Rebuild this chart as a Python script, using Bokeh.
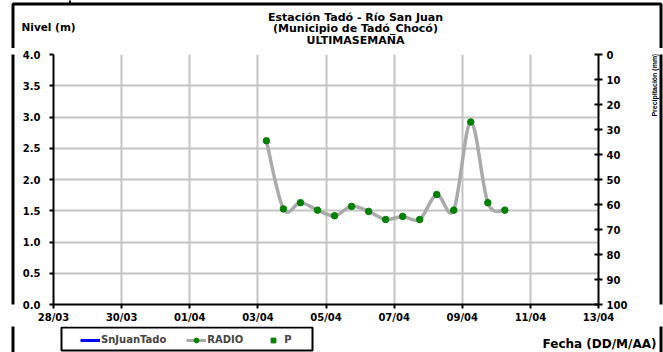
import numpy as np
import pandas as pd
from bokeh.plotting import figure
from bokeh.layouts import column, row
from bokeh.core.properties import value
from bokeh.models import (Range1d, LinearAxis, FixedTicker, DatetimeTickFormatter,
                          PrintfTickFormatter, Label, Legend, LegendItem, BoxAnnotation,
                          ColumnDataSource)
from bokeh.embed import file_html
from bokeh.resources import INLINE

# ---------------- data ----------------
times = ["2023-04-03 06:00", "2023-04-03 18:00", "2023-04-04 06:00", "2023-04-04 18:00",
         "2023-04-05 06:00", "2023-04-05 18:00", "2023-04-06 06:00", "2023-04-06 18:00",
         "2023-04-07 06:00", "2023-04-07 18:00", "2023-04-08 06:00", "2023-04-08 18:00",
         "2023-04-09 06:00", "2023-04-09 18:00", "2023-04-10 06:00"]
nivel = [2.62, 1.53, 1.63, 1.51, 1.42, 1.57, 1.49, 1.36, 1.41, 1.36, 1.76, 1.51, 2.92, 1.63, 1.51]

# series without values in this week (shown in the legend only)
snjuantado_nivel = [float("nan")]
p_precip = [float("nan")]

x_tick_dates = ["2023-03-28", "2023-03-30", "2023-04-01", "2023-04-03", "2023-04-05",
                "2023-04-07", "2023-04-09", "2023-04-11", "2023-04-13"]
nivel_ticks = [0.0, 0.5, 1.0, 1.5, 2.0, 2.5, 3.0, 3.5, 4.0]
precip_ticks = [0, 10, 20, 30, 40, 50, 60, 70, 80, 90, 100]

title_lines = ["Estación Tadó - Río San Juan", "(Municipio de Tadó_Chocó)", "ULTIMASEMANA"]
y_title = "Nivel (m)"
y2_title = "Precipitación (mm)"
x_title = "Fecha (DD/M/AA)"
series_names = ["SnJuanTado", "RADIO", "P"]

# ---------------- styling ----------------
FONT = "DejaVu Sans"
GRID = "#c4c4c4"
LINE_GRAY = "#aaaaaa"
GREEN = "#008000"

def ms(s):
    return pd.Timestamp(s).value / 1e6

xs = np.array([ms(t) for t in times])
ys = np.array(nivel, dtype=float)
xtick_ms = [ms(d) for d in x_tick_dates]

# smooth curve (Catmull-Rom as cubic Bezier segments) through the data points
xp = np.concatenate([[xs[0]], xs, [xs[-1]]])
yp = np.concatenate([[ys[0]], ys, [ys[-1]]])
n = len(xs)
bez = ColumnDataSource(dict(
    x0=xs[:-1], y0=ys[:-1], x1=xs[1:], y1=ys[1:],
    cx0=xs[:-1] + (xp[2:n + 1] - xp[0:n - 1]) / 6.0,
    cy0=ys[:-1] + (yp[2:n + 1] - yp[0:n - 1]) / 6.0,
    cx1=xs[1:] - (xp[3:n + 2] - xp[1:n]) / 6.0,
    cy1=ys[1:] - (yp[3:n + 2] - yp[1:n]) / 6.0,
))

# ---------------- layout sizes ----------------
W, H = 663, 352
TOP_H, MID_H, BOT_H = 48, 278, 26
LEFT_W, MAIN_W, RIGHT_W = 16, 624, 23


def strip(w, h):
    f = figure(width=w, height=h, output_backend="svg", toolbar_location=None,
               x_axis_type=None, y_axis_type=None, min_border=0,
               x_range=Range1d(0, w), y_range=Range1d(0, h))
    f.outline_line_color = None
    f.background_fill_color = "white"
    f.border_fill_color = "white"
    return f


def sbox(l, r, t, b, lw=3, fill=False):
    return BoxAnnotation(left=l, right=r, top=t, bottom=b,
                         left_units="screen", right_units="screen",
                         top_units="screen", bottom_units="screen",
                         fill_color="black", fill_alpha=1 if fill else 0,
                         line_color=None if fill else "black", line_alpha=1, line_width=lw)


def slabel(x, y, text, size, align="center"):
    return Label(x=x, y=y, x_units="screen", y_units="screen", text=text,
                 text_align=align, text_baseline="middle", text_font=FONT,
                 text_font_style="bold", text_font_size=size, text_color="black")


# ---------------- top strip: titles ----------------
top = strip(W, TOP_H)
top.add_layout(sbox(12.5, 660.5, TOP_H - 3.5, -100))
top.add_layout(sbox(68.5, 70.5, TOP_H + 2, TOP_H - 3.5, fill=True))
for i, t in enumerate(title_lines):
    top.add_layout(slabel(355, TOP_H - (16.5 + 11.7 * i), t, "11px"))
top.add_layout(slabel(21, TOP_H - 26.5, y_title, "10.5px", align="left"))

# ---------------- main chart ----------------
p = figure(width=MAIN_W, height=MID_H, output_backend="svg", toolbar_location=None,
           x_axis_type="datetime",
           x_range=Range1d(xtick_ms[0], xtick_ms[-1]), y_range=Range1d(0, 4),
           min_border_left=37, min_border_right=42, min_border_top=6, min_border_bottom=22)
p.outline_line_color = None
p.background_fill_color = "white"
p.border_fill_color = "white"
p.extra_y_ranges = {"p": Range1d(start=100, end=0)}

p.xgrid.ticker = FixedTicker(ticks=xtick_ms)
p.ygrid.ticker = FixedTicker(ticks=nivel_ticks)
p.grid.grid_line_color = GRID
p.grid.grid_line_width = 2


def style_axis(ax):
    ax.axis_line_color = "black"
    ax.axis_line_width = 2
    ax.major_tick_line_color = "black"
    ax.major_tick_line_width = 2
    ax.minor_tick_line_color = None
    ax.major_label_text_font = FONT
    ax.major_label_text_font_style = "bold"
    ax.major_label_text_font_size = "10px"
    ax.major_label_text_color = "black"


xa = p.xaxis[0]
xa.ticker = FixedTicker(ticks=xtick_ms)
xa.formatter = DatetimeTickFormatter(days="%d/%m", months="%d/%m", years="%d/%m",
                                     hours="%d/%m", minutes="%d/%m")
style_axis(xa)
xa.major_tick_out = 4
xa.major_tick_in = 0
xa.major_label_standoff = 3

ya = p.yaxis[0]
ya.ticker = FixedTicker(ticks=nivel_ticks)
ya.formatter = PrintfTickFormatter(format="%.1f")
style_axis(ya)
ya.major_tick_out = 4
ya.major_tick_in = 0
ya.major_label_standoff = 9

ya2 = LinearAxis(y_range_name="p", ticker=FixedTicker(ticks=precip_ticks))
style_axis(ya2)
ya2.major_tick_out = 4
ya2.major_tick_in = 4
ya2.major_label_standoff = 4
p.add_layout(ya2, "right")

p.bezier(x0="x0", y0="y0", x1="x1", y1="y1", cx0="cx0", cy0="cy0", cx1="cx1", cy1="cy1",
         source=bez, line_color=LINE_GRAY, line_width=3.5)
p.scatter(x=xs, y=ys, marker="circle", size=6.5, fill_color=GREEN, line_color=GREEN)

# ---------------- side strips ----------------
left = strip(LEFT_W, MID_H)
left.add_layout(sbox(12.5, 200, MID_H + 100, -100))

right = strip(RIGHT_W, MID_H)
right.add_layout(sbox(-200, 20.5, MID_H + 100, -100))
right.text(x=[13.5], y=[MID_H - 34], text=[y2_title], angle=np.pi / 2,
           text_align="center", text_baseline="middle", text_font=value("Liberation Sans"),
           text_font_style="bold", text_font_size="7px", text_color="black")

# ---------------- bottom strip: legend + x title ----------------
bot = strip(W, BOT_H)
bot.add_layout(sbox(12.5, 660.5, BOT_H + 100, -100))
bot.add_layout(sbox(61, 312, BOT_H - 1, BOT_H - 24, lw=2))

r_sj = bot.line(x=snjuantado_nivel, y=snjuantado_nivel, line_color="#0000ff", line_width=3)
r_radio_l = bot.line(x=snjuantado_nivel, y=snjuantado_nivel, line_color=LINE_GRAY, line_width=3)
r_radio_m = bot.scatter(x=snjuantado_nivel, y=snjuantado_nivel, marker="circle", size=6,
                        fill_color=GREEN, line_color=GREEN)
r_p = bot.scatter(x=p_precip, y=p_precip, marker="square", size=4,
                  fill_color=GREEN, line_color=GREEN)

legend = Legend(items=[LegendItem(label=series_names[0], renderers=[r_sj]),
                       LegendItem(label=series_names[1], renderers=[r_radio_l, r_radio_m]),
                       LegendItem(label=series_names[2], renderers=[r_p])],
                orientation="horizontal", location=(80, 6.5),
                border_line_color=None, background_fill_alpha=0,
                label_text_font=FONT, label_text_font_style="bold", label_text_font_size="10px",
                glyph_width=20, glyph_height=12, label_height=12, label_standoff=1,
                spacing=20, padding=4, margin=0)
bot.add_layout(legend, "center")
bot.add_layout(slabel(656, BOT_H - 17, x_title, "12px", align="right"))

layout = column(top, row(left, p, right, spacing=0), bot, spacing=0)

open("out.html", "w").write(file_html(layout, INLINE))
